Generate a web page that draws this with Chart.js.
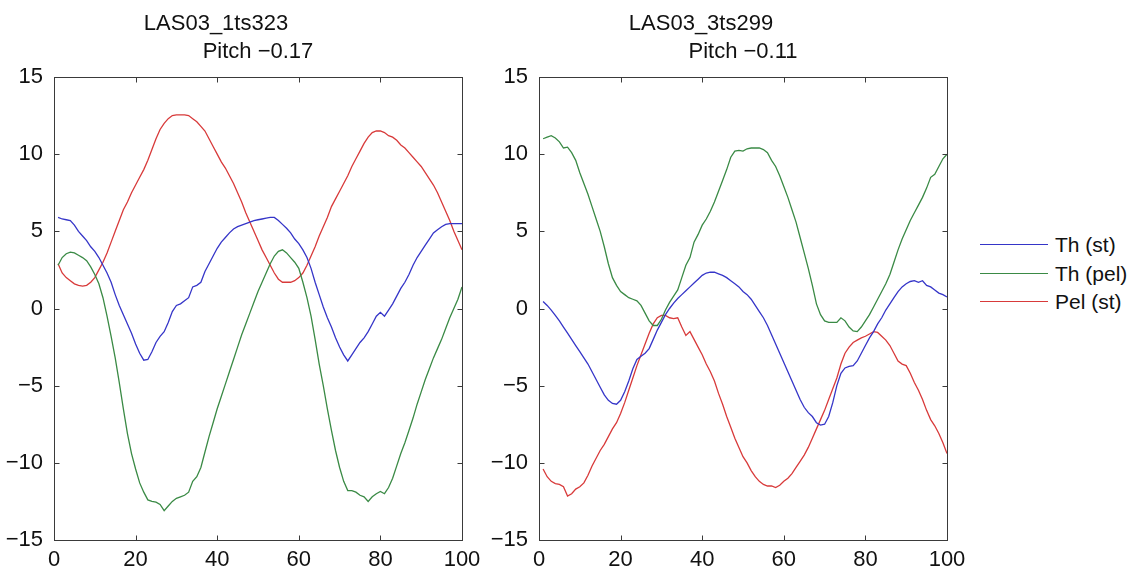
<!DOCTYPE html>
<html>
<head>
<meta charset="utf-8">
<script src="https://cdn.jsdelivr.net/npm/chart.js@4.4.1/dist/chart.umd.min.js"></script>
<style>
  html, body { margin:0; padding:0; background:#fff; }
  body { width:1135px; height:571px; position:relative; overflow:hidden; font-family:"Liberation Sans", Arial, sans-serif; }
  #c1 { position:absolute; left:0; top:0; }
  #c2 { position:absolute; left:490px; top:0; }
  #legend { position:absolute; left:980px; top:231px; }
  .row { position:relative; height:28.5px; }
  .swatch { position:absolute; left:0; top:13px; width:68px; height:1.4px; }
  .lbl { position:absolute; left:75px; top:0; font-size:21px; line-height:27px; color:#111; white-space:nowrap; }
</style>
</head>
<body>
<canvas id="c1" width="490" height="571"></canvas>
<canvas id="c2" width="490" height="571"></canvas>
<div id="legend"></div>
<script>
// ---------- data ----------
const seriesNames = ['Th (st)', 'Th (pel)', 'Pel (st)'];
const seriesColors = ['#3535c8', '#3a8a45', '#d83a3a'];
const xTicks = [0, 20, 40, 60, 80, 100];
const yTicks = [-15, -10, -5, 0, 5, 10, 15];
const samples = Array.from({length: 100}, (_, i) => i + 1);

const leftTitle = ['LAS03_1ts323', 'Pitch \u22120.17'];
const rightTitle = ['LAS03_3ts299', 'Pitch \u22120.11'];

const leftThSt = [5.9,5.8,5.75,5.7,5.4,5.0,4.7,4.4,4.0,3.7,3.3,2.8,2.3,1.7,0.9,0.2,-0.4,-1.0,-1.6,-2.3,
  -2.9,-3.35,-3.3,-2.8,-2.2,-1.8,-1.5,-0.9,-0.2,0.2,0.3,0.5,0.7,1.4,1.5,1.7,2.4,2.9,3.4,3.9,
  4.3,4.6,4.9,5.15,5.3,5.4,5.5,5.6,5.7,5.75,5.8,5.85,5.9,5.9,5.7,5.45,5.2,4.9,4.5,4.2,
  3.8,3.3,2.6,1.7,0.9,0.1,-0.6,-1.2,-1.9,-2.5,-3.0,-3.4,-3.0,-2.6,-2.2,-1.9,-1.5,-1.0,-0.5,-0.25,
  -0.5,-0.1,0.3,0.8,1.3,1.7,2.2,2.8,3.3,3.7,4.1,4.5,4.9,5.1,5.3,5.45,5.5,5.5,5.5,5.5];
const leftThPel = [2.8,3.3,3.55,3.65,3.6,3.45,3.3,3.1,2.7,2.2,1.6,0.7,-0.5,-1.8,-3.2,-4.8,-6.5,-8.1,-9.4,-10.4,
  -11.3,-11.9,-12.4,-12.5,-12.55,-12.7,-13.1,-12.8,-12.5,-12.3,-12.2,-12.1,-11.9,-11.2,-10.9,-10.3,-9.3,-8.3,-7.4,-6.5,
  -5.7,-4.9,-4.1,-3.3,-2.5,-1.7,-1.0,-0.3,0.4,1.1,1.7,2.3,2.9,3.4,3.7,3.8,3.6,3.3,3.0,2.6,
  1.7,0.7,-0.5,-2.0,-3.6,-5.0,-6.5,-7.9,-9.2,-10.3,-11.2,-11.8,-11.8,-11.9,-12.1,-12.2,-12.5,-12.2,-12.0,-11.85,
  -12.0,-11.6,-11.0,-10.2,-9.4,-8.7,-7.9,-7.1,-6.2,-5.4,-4.6,-3.9,-3.2,-2.6,-2.0,-1.3,-0.6,0.0,0.6,1.4];
const leftPelSt = [2.9,2.3,2.0,1.8,1.6,1.5,1.45,1.5,1.7,2.0,2.5,3.0,3.6,4.3,5.0,5.7,6.4,6.9,7.5,8.0,
  8.5,9.0,9.6,10.3,11.0,11.6,12.0,12.3,12.5,12.55,12.55,12.55,12.5,12.3,12.1,11.8,11.5,11.0,10.5,10.0,
  9.5,9.1,8.6,8.1,7.5,6.9,6.2,5.6,5.0,4.4,3.8,3.3,2.8,2.3,1.9,1.7,1.7,1.7,1.8,2.0,
  2.3,2.8,3.4,4.0,4.7,5.3,5.9,6.6,7.1,7.6,8.1,8.6,9.2,9.7,10.2,10.7,11.1,11.4,11.5,11.5,
  11.4,11.2,11.1,10.9,10.6,10.4,10.1,9.8,9.5,9.2,8.8,8.4,8.0,7.5,6.9,6.3,5.7,5.0,4.4,3.8];

const rightThSt = [0.45,0.2,-0.1,-0.45,-0.8,-1.2,-1.6,-2.0,-2.4,-2.8,-3.2,-3.6,-4.1,-4.6,-5.1,-5.6,-5.95,-6.15,-6.2,-5.95,
  -5.4,-4.7,-3.9,-3.3,-3.1,-2.9,-2.6,-2.0,-1.4,-0.9,-0.4,0.0,0.35,0.65,0.9,1.15,1.4,1.65,1.9,2.15,
  2.3,2.35,2.35,2.25,2.15,2.0,1.8,1.6,1.4,1.1,0.9,0.6,0.2,-0.2,-0.6,-1.1,-1.7,-2.3,-2.9,-3.5,
  -4.1,-4.7,-5.3,-5.9,-6.4,-6.75,-7.0,-7.4,-7.55,-7.5,-7.0,-6.1,-5.0,-4.2,-3.85,-3.75,-3.7,-3.4,-2.9,-2.4,
  -1.9,-1.5,-1.0,-0.6,-0.1,0.3,0.7,1.1,1.4,1.6,1.75,1.8,1.7,1.8,1.5,1.4,1.2,1.0,0.9,0.75];
const rightThPel = [11.0,11.1,11.2,11.05,10.8,10.4,10.45,10.1,9.6,8.8,8.1,7.4,6.6,5.8,5.0,4.0,2.9,2.0,1.5,1.1,
  0.9,0.7,0.6,0.5,0.2,-0.3,-0.8,-1.1,-1.1,-0.7,-0.1,0.4,0.8,1.2,2.0,2.8,3.3,4.3,4.8,5.4,
  5.8,6.3,6.9,7.6,8.3,9.0,9.8,10.2,10.25,10.2,10.35,10.4,10.4,10.4,10.3,10.1,9.6,9.2,8.6,7.9,
  7.2,6.4,5.6,4.6,3.6,2.6,1.5,0.3,-0.4,-0.8,-0.9,-0.9,-0.9,-0.6,-0.8,-1.2,-1.45,-1.5,-1.2,-0.8,
  -0.4,0.1,0.6,1.1,1.6,2.2,3.0,3.8,4.5,5.1,5.7,6.2,6.7,7.2,7.8,8.5,8.7,9.2,9.7,10.0];
const rightPelSt = [-10.4,-10.9,-11.2,-11.35,-11.4,-11.55,-12.15,-12.0,-11.7,-11.55,-11.3,-10.8,-10.2,-9.7,-9.2,-8.8,-8.3,-7.8,-7.4,-6.8,
  -6.1,-5.3,-4.5,-3.7,-3.0,-2.3,-1.6,-1.0,-0.6,-0.45,-0.45,-0.6,-0.65,-0.6,-1.2,-1.75,-1.5,-2.0,-2.5,-3.0,
  -3.6,-4.1,-4.7,-5.5,-6.2,-7.0,-7.7,-8.4,-9.0,-9.6,-10.0,-10.5,-10.9,-11.2,-11.4,-11.5,-11.5,-11.6,-11.45,-11.2,
  -11.0,-10.7,-10.3,-9.9,-9.5,-9.0,-8.4,-7.8,-7.2,-6.6,-5.9,-5.2,-4.5,-3.6,-2.9,-2.5,-2.2,-2.05,-1.9,-1.8,
  -1.65,-1.5,-1.55,-1.8,-2.05,-2.4,-2.9,-3.4,-3.6,-3.7,-4.2,-4.8,-5.3,-5.9,-6.6,-7.2,-7.6,-8.1,-8.7,-9.4];

// ---------- plugins ----------
const framePlugin = {
  id: 'frame',
  afterDatasetsDraw(chart) {
    const {ctx, chartArea: a, scales: {x, y}} = chart;
    const L = Math.round(a.left) + 0.5, R = Math.round(a.right) + 0.5;
    const T = Math.round(a.top) + 0.5, B = Math.round(a.bottom) + 0.5;
    ctx.save();
    ctx.strokeStyle = '#3a3a3a';
    ctx.lineWidth = 1;
    ctx.strokeRect(L, T, R - L, B - T);
    const len = 5;
    ctx.beginPath();
    xTicks.forEach(v => {
      const px = Math.round(x.getPixelForValue(v)) + 0.5;
      ctx.moveTo(px, B); ctx.lineTo(px, B - len);
      ctx.moveTo(px, T); ctx.lineTo(px, T + len);
    });
    yTicks.forEach(v => {
      const py = Math.round(y.getPixelForValue(v)) + 0.5;
      ctx.moveTo(L, py); ctx.lineTo(L + len, py);
      ctx.moveTo(R, py); ctx.lineTo(R - len, py);
    });
    ctx.stroke();
    ctx.restore();
  }
};

const titlePlugin = {
  id: 'matTitle',
  afterDraw(chart, args, opts) {
    const {ctx, chartArea: a} = chart;
    const cx = (a.left + a.right) / 2;
    ctx.save();
    ctx.fillStyle = '#111';
    ctx.font = '22px "Liberation Sans", Arial, sans-serif';
    ctx.textAlign = 'center';
    ctx.textBaseline = 'alphabetic';
    ctx.fillText(opts.lines[0], cx - 42, 30);
    ctx.fillText(opts.lines[1], cx, 58);
    ctx.restore();
  }
};

function makeChart(id, title, series, yAxisWidth, padRight) {
  const datasets = series.map((vals, i) => ({
    label: seriesNames[i],
    data: samples.map((s, k) => ({x: s, y: vals[k]})),
    borderColor: seriesColors[i],
    backgroundColor: seriesColors[i],
    borderWidth: 1.3,
    pointRadius: 0,
    tension: 0,
    fill: false
  }));
  const tickFont = {family: '"Liberation Sans", Arial, sans-serif', size: 22};
  return new Chart(document.getElementById(id), {
    type: 'line',
    data: {datasets},
    options: {
      responsive: false,
      animation: false,
      devicePixelRatio: 1,
      layout: {padding: {top: 77, right: padRight, bottom: 0, left: 0}},
      plugins: {
        legend: {display: false},
        tooltip: {enabled: false},
        matTitle: {lines: title}
      },
      scales: {
        x: {
          type: 'linear', min: 0, max: 100,
          grid: {display: false},
          border: {display: false},
          afterBuildTicks: s => { s.ticks = xTicks.map(v => ({value: v})); },
          ticks: {font: tickFont, color: '#111', padding: -1, maxRotation: 0, autoSkip: false},
          afterFit: s => { s.height = 31; }
        },
        y: {
          type: 'linear', min: -15, max: 15,
          grid: {display: false},
          border: {display: false},
          afterBuildTicks: s => { s.ticks = yTicks.map(v => ({value: v})); },
          ticks: {
            font: tickFont, color: '#111', padding: 3, autoSkip: false,
            callback: v => String(v).replace('-', '\u2212')
          },
          afterFit: s => { s.width = yAxisWidth; }
        }
      }
    },
    plugins: [framePlugin, titlePlugin]
  });
}

makeChart('c1', leftTitle, [leftThSt, leftThPel, leftPelSt], 54, 28);
makeChart('c2', rightTitle, [rightThSt, rightThPel, rightPelSt], 49, 33);

// legend
const lg = document.getElementById('legend');
seriesNames.forEach((n, i) => {
  const row = document.createElement('div');
  row.className = 'row';
  const sw = document.createElement('div');
  sw.className = 'swatch';
  sw.style.backgroundColor = seriesColors[i];
  const t = document.createElement('div');
  t.className = 'lbl';
  t.textContent = n;
  row.appendChild(sw); row.appendChild(t);
  lg.appendChild(row);
});
</script>
</body>
</html>
